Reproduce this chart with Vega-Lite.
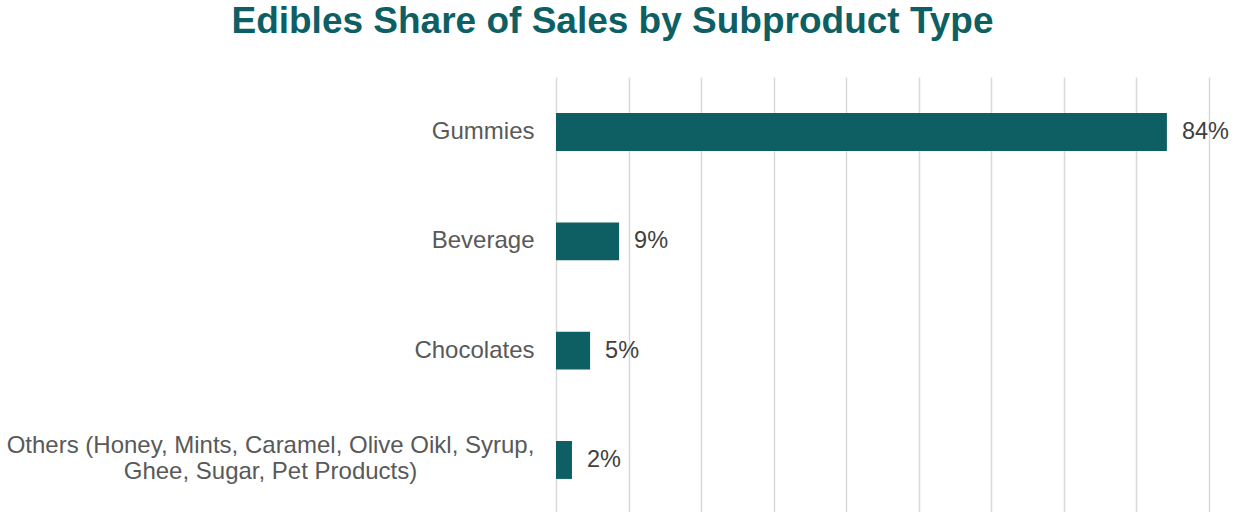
{
  "$schema": "https://vega.github.io/schema/vega-lite/v6.json",
  "autosize": {"type": "none"},
  "width": 653,
  "height": 438,
  "padding": {"left": 556, "top": 77, "right": 28, "bottom": 0},
  "background": "white",
  "config": {"view": {"stroke": null}, "font": "Liberation Sans"},
  "title": {
    "text": "Edibles Share of Sales by Subproduct Type",
    "font": "Liberation Sans",
    "fontSize": 37,
    "fontWeight": "bold",
    "color": "#0e5f64",
    "anchor": "middle",
    "dx": -270,
    "dy": 37,
    "offset": 44,
    "baseline": "alphabetic"
  },
  "data": {
    "values": [
      {"type": "Gummies", "share": 0.842},
      {"type": "Beverage", "share": 0.087},
      {"type": "Chocolates", "share": 0.047},
      {"type": "Others (Honey, Mints, Caramel, Olive Oikl, Syrup,|Ghee, Sugar, Pet Products)", "share": 0.022}
    ]
  },
  "encoding": {
    "y": {
      "field": "type",
      "type": "nominal",
      "sort": null,
      "scale": {"paddingInner": 0.653, "paddingOuter": 0.33},
      "axis": {
        "title": null,
        "domain": false,
        "ticks": false,
        "grid": false,
        "labelPadding": {"condition": {"test": "indexof(datum.value, '|') >= 0", "value": 286}, "value": 22},
        "labelAlign": {"condition": {"test": "indexof(datum.value, '|') >= 0", "value": "center"}, "value": "right"},
        "labelOffset": {"condition": {"test": "indexof(datum.value, '|') >= 0", "value": -14}, "value": 0},
        "labelFontSize": 24,
        "labelColor": "#595959",
        "labelFont": "Liberation Sans",
        "labelLimit": 0,
        "labelLineHeight": 26,
        "labelExpr": "split(datum.label, '|')"
      }
    },
    "x": {
      "field": "share",
      "type": "quantitative",
      "scale": {"domain": [0, 0.9], "nice": false},
      "axis": {
        "title": null,
        "labels": false,
        "ticks": false,
        "domain": false,
        "grid": true,
        "values": [0, 0.1, 0.2, 0.3, 0.4, 0.5, 0.6, 0.7, 0.8, 0.9],
        "gridColor": "#d9d9d9",
        "gridWidth": 1.5,
        "gridOpacity": 1
      }
    }
  },
  "layer": [
    {"mark": {"type": "bar", "color": "#0e5f64"}},
    {
      "mark": {"type": "text", "align": "left", "baseline": "middle", "dx": 15, "fontSize": 23.5, "color": "#404040", "font": "Liberation Sans"},
      "encoding": {"text": {"field": "share", "type": "quantitative", "format": ".0%"}}
    }
  ]
}
